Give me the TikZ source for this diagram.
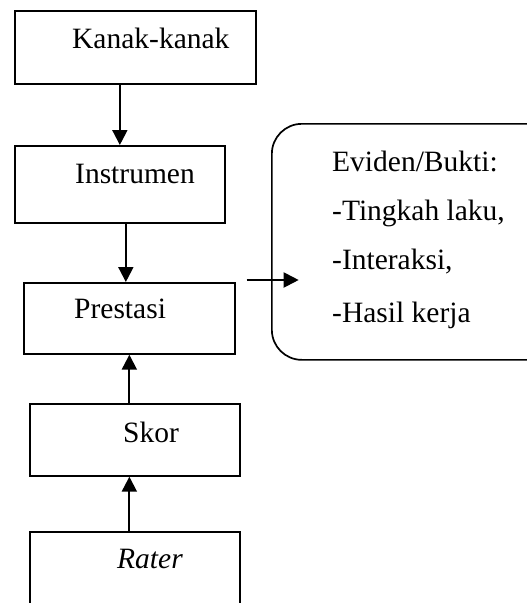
\documentclass[tikz,border=0pt]{standalone}
\usepackage{fontspec}
\setmainfont{Liberation Serif}
\usetikzlibrary{arrows.meta,calc}
\tikzset{
  box/.style  = {draw, line width=1.7pt, anchor=north west, inner sep=0pt},
  txt/.style  = {anchor=base west, inner sep=0pt, font=\fontsize{29.5}{34}\selectfont},
  flow/.style = {-{Triangle[length=15pt,width=15pt]}, line width=2pt},
}
\begin{document}
\begin{tikzpicture}[x=1pt,y=-1pt]
  \useasboundingbox (0,0) rectangle (527,603);
  \clip (0,0) rectangle (527,603);
  % boxes
  \node[box, minimum width=241pt, minimum height=73pt] (kanak) at (14,10) {};
  \node[box, minimum width=210pt, minimum height=77pt] (inst)  at (14,145) {};
  \node[box, minimum width=211pt, minimum height=71pt] (pres)  at (23,282) {};
  \node[box, minimum width=210pt, minimum height=72pt] (skor)  at (29,403) {};
  \node[box, minimum width=210pt, minimum height=110pt] (rater) at (29,531) {};
  \node[box, rounded corners=30pt, minimum width=294pt, minimum height=236pt] (evid) at (271,123) {};
  % texts
  \node[txt] (tkanak) at (72,48)  {Kanak-kanak};
  \node[txt] (tinst)  at (75,183) {Instrumen};
  \node[txt] (tpres)  at (74,318) {Prestasi};
  \node[txt] (tskor)  at (123,442) {Skor};
  \node[txt] (trater) at (117,568) {\itshape Rater};
  \node[txt] (ev1) at (332,171) {Eviden/Bukti:};
  \node[txt] (ev2) at (332,220) {-Tingkah laku,};
  \node[txt] (ev3) at (332,269) {-Interaksi,};
  \node[txt] (ev4) at (332,322) {-Hasil kerja};
  % connectors
  \draw[flow] (inst.north |- kanak.south) -- (inst.north);
  \coordinate (a2) at ($(inst.south)+(6,0)$);
  \draw[flow] (a2) -- (a2 |- pres.north);
  \draw[flow] (pres.south |- skor.north) -- (pres.south);
  \draw[flow] (pres.south |- rater.north) -- (pres.south |- skor.south);
  \coordinate (hstart) at ($(pres.north east)+(11,-2)$);
  \coordinate (hend) at ($(hstart)+(52,0)$);
  \draw[flow] (hstart) -- (hend);
\end{tikzpicture}
\end{document}
